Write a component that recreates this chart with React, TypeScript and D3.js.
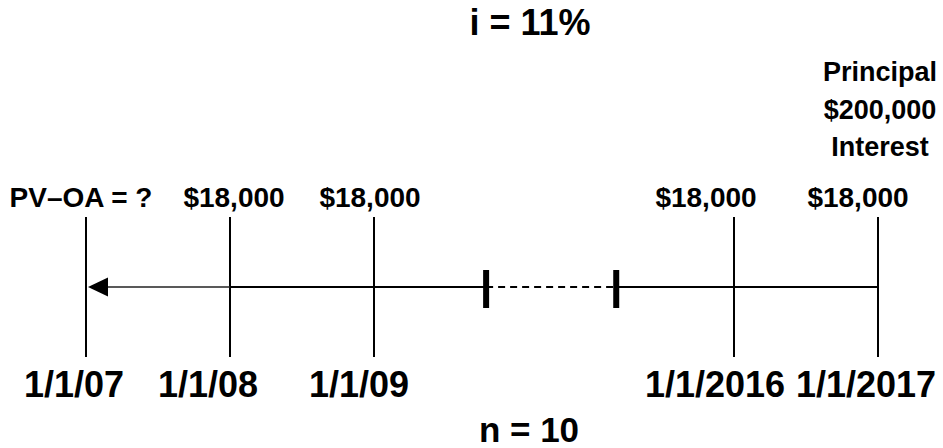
import React from "react";
import * as d3 from "d3";

// ---- data ----
const periods = [0, 1, 2, 9, 10];
const dateLabels = ["1/1/07", "1/1/08", "1/1/09", "1/1/2016", "1/1/2017"];
const paymentLabels = ["PV\u2013OA = ?", "$18,000", "$18,000", "$18,000", "$18,000"];
const principalLines = ["Principal", "$200,000", "Interest"];
const rateLabel = "i = 11%";
const nLabel = "n = 10";
const breakPeriods = [4.18, 6.71];

// ---- layout ----
const W = 943;
const H = 448;
const dateDx = [-12, -22, -15, -19, -12];
const payDx = [-5, 4, -4, -28, -20];
const font = "'Liberation Sans', Arial, Helvetica, sans-serif";

export default function App() {
  const x = d3.scaleLinear().domain([0, 2, 9, 10]).range([86, 374, 734, 878]);
  const y = d3.scaleLinear().domain([0, 1]).range([217, 357]);
  const axisY = 287;
  const last = periods[periods.length - 1];
  const arrowTip = x(0) + 2;
  const arrowLen = 20;
  const arrowHalf = 9.5;

  return (
    <svg
      width={W}
      height={H}
      style={{ position: "absolute", left: 0, top: 0, background: "#fff" }}
      fontFamily={font}
      fontWeight="bold"
    >
      <rect width={W} height={H} fill="#fff" />
      {/* title */}
      <text x={530} y={35} fontSize={36} textAnchor="middle">{rateLabel}</text>
      {/* principal block */}
      {principalLines.map((t, i) => (
        <text key={t} x={x(last) + 2} y={81 + i * 37.5} fontSize={27} textAnchor="middle">{t}</text>
      ))}
      {/* vertical period lines */}
      {periods.map((p) => (
        <line key={"v" + p} x1={x(p)} x2={x(p)} y1={y(0)} y2={y(1)} stroke="#000" strokeWidth={2} />
      ))}
      {/* horizontal axis: gray segment to arrow */}
      <line x1={arrowTip + arrowLen - 1} x2={x(1)} y1={axisY} y2={axisY} stroke="#222" strokeWidth={1.6} />
      <line x1={x(1)} x2={x(breakPeriods[0])} y1={axisY} y2={axisY} stroke="#000" strokeWidth={2} />
      <line x1={x(breakPeriods[0])} x2={x(breakPeriods[1])} y1={axisY} y2={axisY} stroke="#000" strokeWidth={2} strokeDasharray="7,5" />
      <line x1={x(breakPeriods[1])} x2={x(last)} y1={axisY} y2={axisY} stroke="#000" strokeWidth={2} />
      {/* break ticks */}
      {breakPeriods.map((b) => (
        <line key={"b" + b} x1={x(b)} x2={x(b)} y1={270} y2={308} stroke="#000" strokeWidth={6} />
      ))}
      {/* arrow head */}
      <path
        d={`M${arrowTip},${axisY} L${arrowTip + arrowLen},${axisY - arrowHalf} L${arrowTip + arrowLen},${axisY + arrowHalf} Z`}
        fill="#000"
      />
      {/* payment labels */}
      {periods.map((p, i) => (
        <text key={"p" + i} x={x(p) + payDx[i]} y={207} fontSize={28} textAnchor="middle">{paymentLabels[i]}</text>
      ))}
      {/* date labels */}
      {periods.map((p, i) => (
        <text key={"d" + i} x={x(p) + dateDx[i]} y={397} fontSize={36} textAnchor="middle">{dateLabels[i]}</text>
      ))}
      <text x={529} y={442} fontSize={35} textAnchor="middle">{nLabel}</text>
    </svg>
  );
}
